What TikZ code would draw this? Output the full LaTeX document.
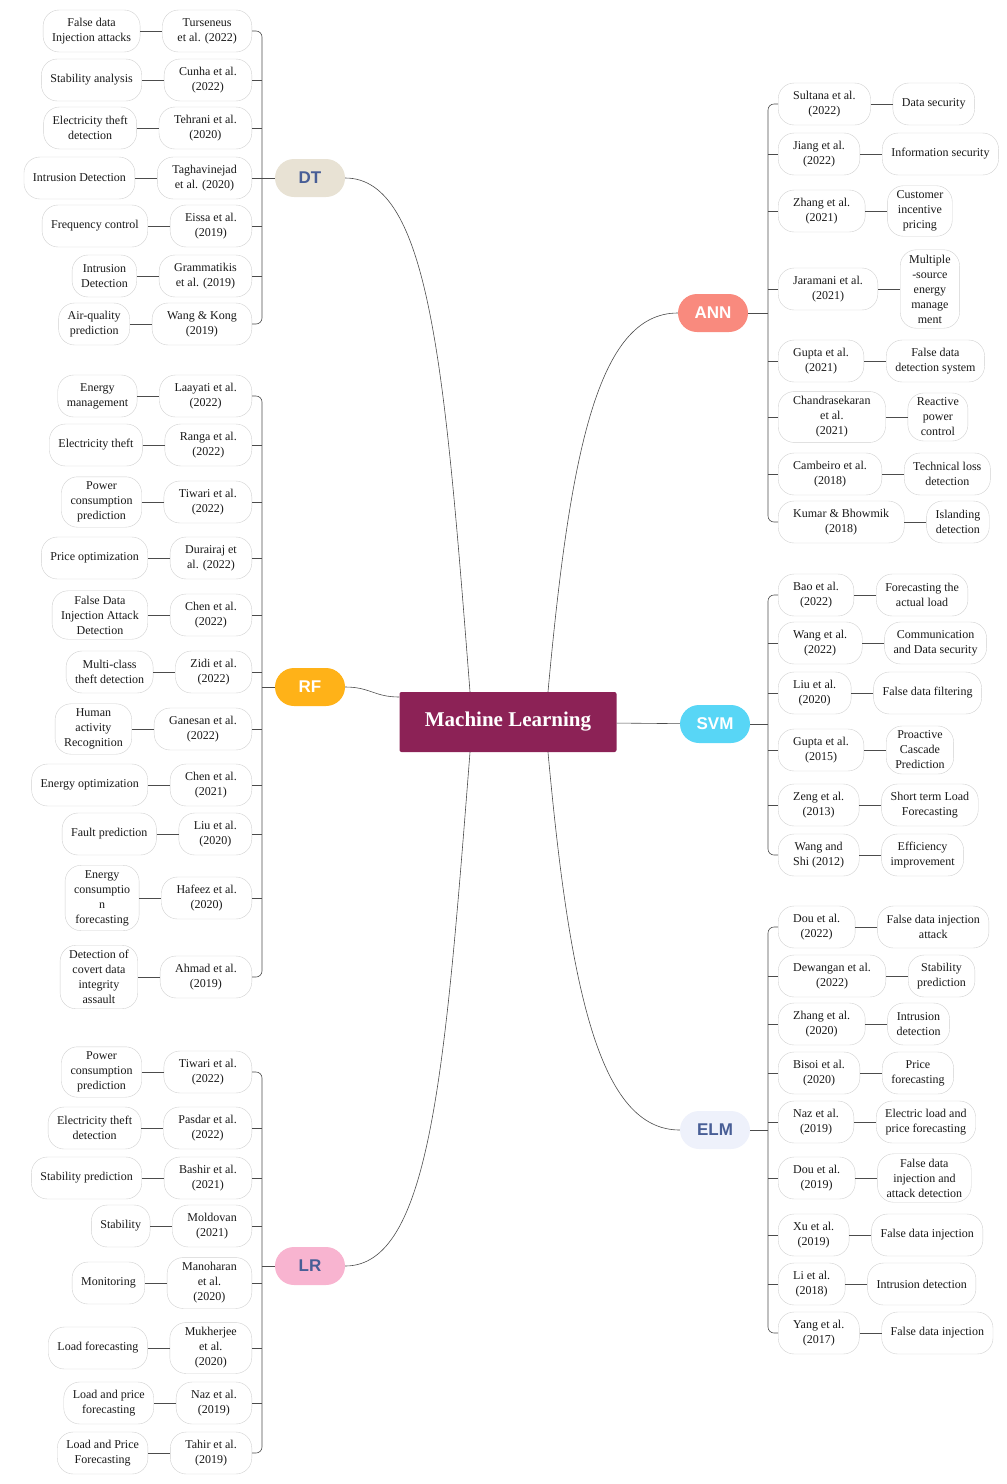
\documentclass[tikz,border=0pt]{standalone}
\usepackage{fontspec}
\setmainfont{Liberation Serif}
\setsansfont{Liberation Sans}
\usetikzlibrary{positioning}
\definecolor{mlred}{RGB}{140,34,86}
\definecolor{dtfill}{RGB}{232,226,212}
\definecolor{rffill}{RGB}{255,178,24}
\definecolor{lrfill}{RGB}{248,180,208}
\definecolor{annfill}{RGB}{249,138,126}
\definecolor{svmfill}{RGB}{88,214,246}
\definecolor{elmfill}{RGB}{238,241,251}
\definecolor{cattext}{RGB}{72,94,150}
\begin{document}
\begin{tikzpicture}[
        x=1pt, y=-1pt,
        pill/.style={draw=black!18, fill=white, rounded corners=16pt, align=center, text=black!90, inner ysep=5pt, minimum height=42pt, font=\fontsize{12}{15}\selectfont},
        lcite/.style={pill, inner xsep=15pt, anchor=east},
        rcite/.style={pill, inner xsep=15pt, anchor=west},
        topic/.style={pill, inner xsep=9pt},
        cat/.style={rounded corners=19pt, minimum width=70pt, minimum height=38pt, font=\sffamily\bfseries\fontsize{17}{19}\selectfont},
        link/.style={draw=black!70, line width=0.6pt},
        bracket/.style={link, rounded corners=6pt},
        node distance=22pt,
    ]
    \useasboundingbox (0,0) rectangle (1007,1484);
    \node[fill=mlred, text=white, minimum width=217pt, minimum height=60pt, rounded corners=2pt, font=\bfseries\fontsize{21}{24}\selectfont](ml) at (508,722) {Machine Learning};

    \node[cat, fill=dtfill, text=cattext](dt) at (310,178) {DT};
    \node[cat, fill=rffill, text=white](rf) at (310,687) {RF};
    \node[cat, fill=lrfill, text=cattext](lr) at (310,1266) {LR};
    \node[cat, fill=annfill, text=white](ann) at (713,313) {ANN};
    \node[cat, fill=svmfill, text=white](svm) at (715,724) {SVM};
    \node[cat, fill=elmfill, text=cattext](elm) at (715,1130) {ELM};

    \coordinate (dtbar) at (262,178);
    \coordinate (rfbar) at (262,687);
    \coordinate (lrbar) at (262,1266);
    \coordinate (annbar) at (768,313);
    \coordinate (svmbar) at (768,724);
    \coordinate (elmbar) at (768,1130);

    \node[lcite](dt1) at (252,31) {Turseneus\\et al. (2022)};
    \node[lcite](dt2) at (252,80) {Cunha et al.\\(2022)};
    \node[lcite](dt3) at (252,128) {Tehrani et al.\\(2020)};
    \node[lcite](dt4) at (252,178) {Taghavinejad\\et al. (2020)};
    \node[lcite](dt5) at (252,226) {Eissa et al.\\(2019)};
    \node[lcite](dt6) at (252,276) {Grammatikis\\et al. (2019)};
    \node[lcite](dt7) at (252,324) {Wang \& Kong\\(2019)};
    \node[topic, left=of dt1](dtt1) {False data\\Injection attacks};
    \node[topic, left=of dt2](dtt2) {Stability analysis};
    \node[topic, left=of dt3](dtt3) {Electricity theft\\detection};
    \node[topic, left=of dt4](dtt4) {Intrusion Detection};
    \node[topic, left=of dt5](dtt5) {Frequency control};
    \node[topic, left=of dt6](dtt6) {Intrusion\\Detection};
    \node[topic, left=of dt7](dtt7) {Air-quality\\prediction};

    \node[lcite](rf1) at (252,396) {Laayati et al.\\(2022)};
    \node[lcite](rf2) at (252,445) {Ranga et al.\\(2022)};
    \node[lcite](rf3) at (252,502) {Tiwari et al.\\(2022)};
    \node[lcite](rf4) at (252,558) {Durairaj et\\al. (2022)};
    \node[lcite](rf5) at (252,615) {Chen et al.\\(2022)};
    \node[lcite](rf6) at (252,672) {Zidi et al.\\(2022)};
    \node[lcite](rf7) at (252,729) {Ganesan et al.\\(2022)};
    \node[lcite](rf8) at (252,785) {Chen et al.\\(2021)};
    \node[lcite](rf9) at (252,834) {Liu et al.\\(2020)};
    \node[lcite](rf10) at (252,898) {Hafeez et al.\\(2020)};
    \node[lcite](rf11) at (252,977) {Ahmad et al.\\(2019)};
    \node[topic, left=of rf1](rft1) {Energy\\management};
    \node[topic, left=of rf2](rft2) {Electricity theft};
    \node[topic, left=of rf3](rft3) {Power\\consumption\\prediction};
    \node[topic, left=of rf4](rft4) {Price optimization};
    \node[topic, left=of rf5](rft5) {False Data\\Injection Attack\\Detection};
    \node[topic, left=of rf6](rft6) {Multi-class\\theft detection};
    \node[topic, left=of rf7](rft7) {Human\\activity\\Recognition};
    \node[topic, left=of rf8](rft8) {Energy optimization};
    \node[topic, left=of rf9](rft9) {Fault prediction};
    \node[topic, left=of rf10](rft10) {Energy\\consumptio\\n\\forecasting};
    \node[topic, left=of rf11](rft11) {Detection of\\covert data\\integrity\\assault};

    \node[lcite](lr1) at (252,1072) {Tiwari et al.\\(2022)};
    \node[lcite](lr2) at (252,1128) {Pasdar et al.\\(2022)};
    \node[lcite](lr3) at (252,1178) {Bashir et al.\\(2021)};
    \node[lcite](lr4) at (252,1226) {Moldovan\\(2021)};
    \node[lcite](lr5) at (252,1283) {Manoharan\\et al.\\(2020)};
    \node[lcite](lr6) at (252,1348) {Mukherjee\\et al.\\(2020)};
    \node[lcite](lr7) at (252,1403) {Naz et al.\\(2019)};
    \node[lcite](lr8) at (252,1453) {Tahir et al.\\(2019)};
    \node[topic, left=of lr1](lrt1) {Power\\consumption\\prediction};
    \node[topic, left=of lr2](lrt2) {Electricity theft\\detection};
    \node[topic, left=of lr3](lrt3) {Stability prediction};
    \node[topic, left=of lr4](lrt4) {Stability};
    \node[topic, left=of lr5](lrt5) {Monitoring};
    \node[topic, left=of lr6](lrt6) {Load forecasting};
    \node[topic, left=of lr7](lrt7) {Load and price\\forecasting};
    \node[topic, left=of lr8](lrt8) {Load and Price\\Forecasting};

    \node[rcite](ann1) at (778,104) {Sultana et al.\\(2022)};
    \node[rcite](ann2) at (778,154) {Jiang et al.\\(2022)};
    \node[rcite](ann3) at (778,211) {Zhang et al.\\(2021)};
    \node[rcite](ann4) at (778,289) {Jaramani et al.\\(2021)};
    \node[rcite](ann5) at (778,361) {Gupta et al.\\(2021)};
    \node[rcite](ann6) at (778,417) {Chandrasekaran\\et al.\\(2021)};
    \node[rcite](ann7) at (778,474) {Cambeiro et al.\\(2018)};
    \node[rcite](ann8) at (778,522) {Kumar \& Bhowmik\\(2018)};
    \node[topic, right=of ann1](annt1) {Data security};
    \node[topic, right=of ann2](annt2) {Information security};
    \node[topic, right=of ann3](annt3) {Customer\\incentive\\pricing};
    \node[topic, right=of ann4](annt4) {Multiple\\-source\\energy\\manage\\ment};
    \node[topic, right=of ann5](annt5) {False data\\detection system};
    \node[topic, right=of ann6](annt6) {Reactive\\power\\control};
    \node[topic, right=of ann7](annt7) {Technical loss\\detection};
    \node[topic, right=of ann8](annt8) {Islanding\\detection};

    \node[rcite](svm1) at (778,595) {Bao et al.\\(2022)};
    \node[rcite](svm2) at (778,643) {Wang et al.\\(2022)};
    \node[rcite](svm3) at (778,693) {Liu et al.\\(2020)};
    \node[rcite](svm4) at (778,750) {Gupta et al.\\(2015)};
    \node[rcite](svm5) at (778,805) {Zeng et al.\\(2013)};
    \node[rcite](svm6) at (778,855) {Wang and\\Shi (2012)};
    \node[topic, right=of svm1](svmt1) {Forecasting the\\actual load};
    \node[topic, right=of svm2](svmt2) {Communication\\and Data security};
    \node[topic, right=of svm3](svmt3) {False data filtering};
    \node[topic, right=of svm4](svmt4) {Proactive\\Cascade\\Prediction};
    \node[topic, right=of svm5](svmt5) {Short term Load\\Forecasting};
    \node[topic, right=of svm6](svmt6) {Efficiency\\improvement};

    \node[rcite](elm1) at (778,927) {Dou et al.\\(2022)};
    \node[rcite](elm2) at (778,976) {Dewangan et al.\\(2022)};
    \node[rcite](elm3) at (778,1024) {Zhang et al.\\(2020)};
    \node[rcite](elm4) at (778,1073) {Bisoi et al.\\(2020)};
    \node[rcite](elm5) at (778,1122) {Naz et al.\\(2019)};
    \node[rcite](elm6) at (778,1178) {Dou et al.\\(2019)};
    \node[rcite](elm7) at (778,1235) {Xu et al.\\(2019)};
    \node[rcite](elm8) at (778,1284) {Li et al.\\(2018)};
    \node[rcite](elm9) at (778,1333) {Yang et al.\\(2017)};
    \node[topic, right=of elm1](elmt1) {False data injection\\attack};
    \node[topic, right=of elm2](elmt2) {Stability\\prediction};
    \node[topic, right=of elm3](elmt3) {Intrusion\\detection};
    \node[topic, right=of elm4](elmt4) {Price\\forecasting};
    \node[topic, right=of elm5](elmt5) {Electric load and\\price forecasting};
    \node[topic, right=of elm6](elmt6) {False data\\injection and\\attack detection};
    \node[topic, right=of elm7](elmt7) {False data injection};
    \node[topic, right=of elm8](elmt8) {Intrusion detection};
    \node[topic, right=of elm9](elmt9) {False data injection};

    \draw[link] (dt.east) .. controls +(85,0) and +(-25,-320) .. ([xshift=-38pt]ml.north);
    \draw[link] (rf.east) .. controls +(25,0) and +(-25,0) .. ([yshift=25pt]ml.west);
    \draw[link] (lr.east) .. controls +(85,0) and +(-25,320) .. ([xshift=-38pt]ml.south);
    \draw[link] (ann.west) .. controls +(-80,0) and +(22,-240) .. ([xshift=40pt]ml.north);
    \draw[link] (ml) -- (svm);
    \draw[link] (elm.west) .. controls +(-80,0) and +(22,240) .. ([xshift=40pt]ml.south);

    \draw[link] (dt) -- (dtbar);
    \draw[link] (rf) -- (rfbar);
    \draw[link] (lr) -- (lrbar);
    \draw[link] (ann) -- (annbar);
    \draw[link] (svm) -- (svmbar);
    \draw[link] (elm) -- (elmbar);

    \draw[bracket] (dt1.east) -- (dt1.east -| dtbar) -- (dt7.east -| dtbar) -- (dt7.east);
    \draw[bracket] (rf1.east) -- (rf1.east -| rfbar) -- (rf11.east -| rfbar) -- (rf11.east);
    \draw[bracket] (lr1.east) -- (lr1.east -| lrbar) -- (lr8.east -| lrbar) -- (lr8.east);
    \draw[bracket] (ann1.west) -- (ann1.west -| annbar) -- (ann8.west -| annbar) -- (ann8.west);
    \draw[bracket] (svm1.west) -- (svm1.west -| svmbar) -- (svm6.west -| svmbar) -- (svm6.west);
    \draw[bracket] (elm1.west) -- (elm1.west -| elmbar) -- (elm9.west -| elmbar) -- (elm9.west);

    \foreach \i in {2,...,6} \draw[link] (dt\i.east) -- (dt\i.east -| dtbar);
    \foreach \i in {2,...,10} \draw[link] (rf\i.east) -- (rf\i.east -| rfbar);
    \foreach \i in {2,...,7} \draw[link] (lr\i.east) -- (lr\i.east -| lrbar);
    \foreach \i in {2,...,7} \draw[link] (ann\i.west) -- (ann\i.west -| annbar);
    \foreach \i in {2,...,5} \draw[link] (svm\i.west) -- (svm\i.west -| svmbar);
    \foreach \i in {2,...,8} \draw[link] (elm\i.west) -- (elm\i.west -| elmbar);

    \foreach \i in {1,...,7} \draw[link] (dtt\i) -- (dt\i);
    \foreach \i in {1,...,11} \draw[link] (rft\i) -- (rf\i);
    \foreach \i in {1,...,8} \draw[link] (lrt\i) -- (lr\i);
    \foreach \i in {1,...,8} \draw[link] (ann\i) -- (annt\i);
    \foreach \i in {1,...,6} \draw[link] (svm\i) -- (svmt\i);
    \foreach \i in {1,...,9} \draw[link] (elm\i) -- (elmt\i);
\end{tikzpicture}
\end{document}
